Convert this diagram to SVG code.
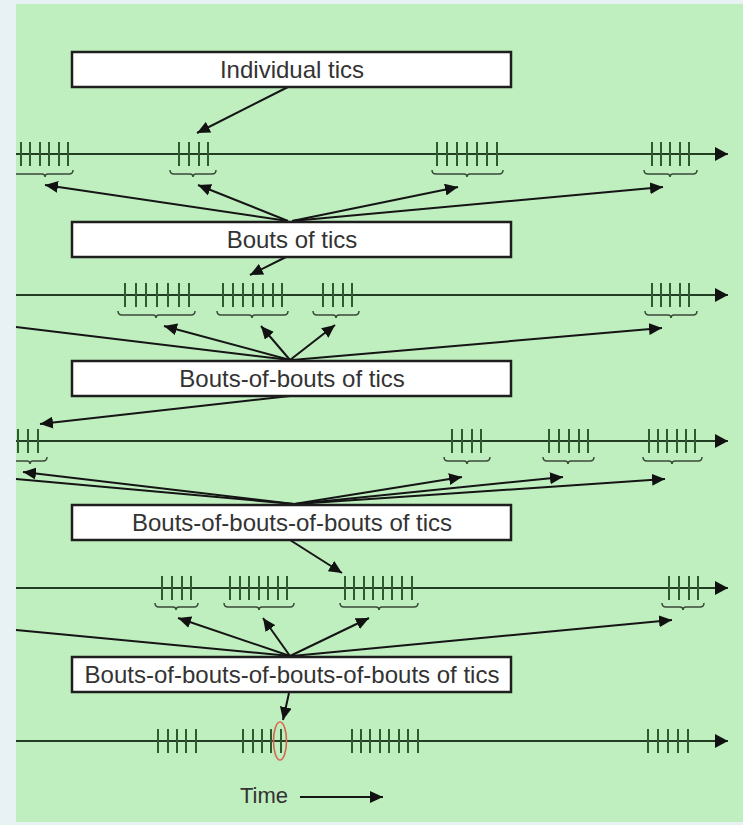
<svg xmlns="http://www.w3.org/2000/svg" width="743" height="825" viewBox="0 0 743 825">
<style>
.box{fill:#ffffff;stroke:#1e1e1e;stroke-width:2.5}
.lbl{font-family:"Liberation Sans",Arial,sans-serif;font-size:24px;fill:#333333;text-anchor:middle}
.axis{stroke:#233d23;stroke-width:2;fill:none}
.tic{stroke:#2f5a30;stroke-width:2}
.brace{stroke:#3a4a3a;stroke-width:1.5;fill:none}
.arr{stroke:#151515;stroke-width:2;fill:none}
</style>
<defs>
<marker id="ah" markerWidth="14" markerHeight="12" refX="13" refY="6" orient="auto" markerUnits="userSpaceOnUse"><path d="M0,0 L13,6 L0,12 Z" fill="#111111"/></marker>
<marker id="axh" markerWidth="14" markerHeight="14" refX="13" refY="7" orient="auto" markerUnits="userSpaceOnUse"><path d="M0,0 L13,7 L0,14 Z" fill="#111111"/></marker>
</defs>
<rect x="0" y="0" width="743" height="825" fill="#e8f1f3"/>
<rect x="16" y="4" width="727" height="818" fill="#bfeebf"/>

<g id="timelines">
<line class="axis" x1="16" y1="154" x2="728" y2="154" marker-end="url(#axh)"/>
<line class="axis" x1="16" y1="295" x2="728" y2="295" marker-end="url(#axh)"/>
<line class="axis" x1="16" y1="441" x2="728" y2="441" marker-end="url(#axh)"/>
<line class="axis" x1="16" y1="588" x2="728" y2="588" marker-end="url(#axh)"/>
<line class="axis" x1="16" y1="741" x2="728" y2="741" marker-end="url(#axh)"/>
</g>

<g id="tics">
<path class="tic" d="M21,142v24M30,142v24M40,142v24M49,142v24M59,142v24M68,142v24
M179,142v24M189,142v24M199,142v24M208,142v24
M437,142v24M447,142v24M457,142v24M467,142v24M477,142v24M487,142v24M497,142v24
M652,142v24M661,142v24M670,142v24M680,142v24M689,142v24"/>
<path class="tic" d="M125,283v24M136,283v24M146,283v24M157,283v24M168,283v24M179,283v24M189,283v24
M223,283v24M233,283v24M243,283v24M253,283v24M263,283v24M273,283v24M282,283v24
M323,283v24M333,283v24M343,283v24M352,283v24
M652,283v24M661,283v24M670,283v24M680,283v24M689,283v24"/>
<path class="tic" d="M18,429v24M28,429v24M38,429v24
M452,429v24M462,429v24M472,429v24M481,429v24
M549,429v24M559,429v24M569,429v24M579,429v24M588,429v24
M649,429v24M658,429v24M667,429v24M677,429v24M686,429v24M695,429v24"/>
<path class="tic" d="M162,576v24M172,576v24M182,576v24M191,576v24
M230,576v24M240,576v24M249,576v24M259,576v24M268,576v24M278,576v24M287,576v24
M345,576v24M354,576v24M364,576v24M373,576v24M383,576v24M392,576v24M402,576v24M412,576v24
M669,576v24M679,576v24M689,576v24M698,576v24"/>
<path class="tic" d="M158,729v24M168,729v24M177,729v24M186,729v24M196,729v24
M243,729v24M253,729v24M262,729v24M271,729v24M281,729v24
M352,729v24M361,729v24M370,729v24M380,729v24M389,729v24M399,729v24M408,729v24M418,729v24
M648,729v24M658,729v24M668,729v24M678,729v24M688,729v24"/>
<ellipse cx="280" cy="741" rx="6.5" ry="19" fill="none" stroke="#d8664e" stroke-width="1.6"/>
</g>

<g id="braces">
<path class="brace" d="M16,174 H42 q3,0 3,3 q0,-3 3,-3 H69 q4,0 4,-4"/>
<path class="brace" d="M170,170 q0,4 4,4 H190 q3,0 3,3 q0,-3 3,-3 H212 q4,0 4,-4"/>
<path class="brace" d="M432,170 q0,4 4,4 H464 q3,0 3,3 q0,-3 3,-3 H499 q4,0 4,-4"/>
<path class="brace" d="M644,170 q0,4 4,4 H667 q3,0 3,3 q0,-3 3,-3 H693 q4,0 4,-4"/>

<path class="brace" d="M118,311 q0,4 4,4 H153 q3,0 3,3 q0,-3 3,-3 H191 q4,0 4,-4"/>
<path class="brace" d="M217,311 q0,4 4,4 H249 q3,0 3,3 q0,-3 3,-3 H284 q4,0 4,-4"/>
<path class="brace" d="M313,311 q0,4 4,4 H333 q3,0 3,3 q0,-3 3,-3 H355 q4,0 4,-4"/>
<path class="brace" d="M645,311 q0,4 4,4 H668 q3,0 3,3 q0,-3 3,-3 H693 q4,0 4,-4"/>

<path class="brace" d="M16,461 H27 q3,0 3,3 q0,-3 3,-3 H43 q4,0 4,-4"/>
<path class="brace" d="M444,457 q0,4 4,4 H464 q3,0 3,3 q0,-3 3,-3 H486 q4,0 4,-4"/>
<path class="brace" d="M543,457 q0,4 4,4 H565 q3,0 3,3 q0,-3 3,-3 H590 q4,0 4,-4"/>
<path class="brace" d="M643,457 q0,4 4,4 H669 q3,0 3,3 q0,-3 3,-3 H698 q4,0 4,-4"/>

<path class="brace" d="M155,603 q0,4 4,4 H173 q3,0 3,3 q0,-3 3,-3 H194 q4,0 4,-4"/>
<path class="brace" d="M224,603 q0,4 4,4 H256 q3,0 3,3 q0,-3 3,-3 H290 q4,0 4,-4"/>
<path class="brace" d="M340,603 q0,4 4,4 H376 q3,0 3,3 q0,-3 3,-3 H414 q4,0 4,-4"/>
<path class="brace" d="M662,603 q0,4 4,4 H680 q3,0 3,3 q0,-3 3,-3 H700 q4,0 4,-4"/>
</g>

<g id="connectors">
<line class="arr" x1="288" y1="87" x2="197" y2="133" marker-end="url(#ah)"/>

<line class="arr" x1="288" y1="221" x2="45" y2="185" marker-end="url(#ah)"/>
<line class="arr" x1="288" y1="221" x2="198" y2="185" marker-end="url(#ah)"/>
<line class="arr" x1="292" y1="221" x2="458" y2="187" marker-end="url(#ah)"/>
<line class="arr" x1="292" y1="221" x2="663" y2="187" marker-end="url(#ah)"/>

<line class="arr" x1="286" y1="257" x2="250" y2="275" marker-end="url(#ah)"/>

<line class="arr" x1="290" y1="360" x2="16" y2="327"/>
<line class="arr" x1="290" y1="360" x2="164" y2="326" marker-end="url(#ah)"/>
<line class="arr" x1="290" y1="360" x2="261" y2="326" marker-end="url(#ah)"/>
<line class="arr" x1="290" y1="360" x2="335" y2="325" marker-end="url(#ah)"/>
<line class="arr" x1="292" y1="360" x2="662" y2="328" marker-end="url(#ah)"/>

<line class="arr" x1="290" y1="396" x2="40" y2="424" marker-end="url(#ah)"/>

<line class="arr" x1="294" y1="504" x2="23" y2="472" marker-end="url(#ah)"/>
<line class="arr" x1="294" y1="504" x2="16" y2="479"/>
<line class="arr" x1="294" y1="504" x2="462" y2="477" marker-end="url(#ah)"/>
<line class="arr" x1="296" y1="504" x2="563" y2="477" marker-end="url(#ah)"/>
<line class="arr" x1="296" y1="504" x2="665" y2="479" marker-end="url(#ah)"/>

<line class="arr" x1="290" y1="540" x2="342" y2="573" marker-end="url(#ah)"/>

<line class="arr" x1="290" y1="656" x2="16" y2="630"/>
<line class="arr" x1="290" y1="656" x2="178" y2="618" marker-end="url(#ah)"/>
<line class="arr" x1="290" y1="656" x2="263" y2="618" marker-end="url(#ah)"/>
<line class="arr" x1="290" y1="656" x2="369" y2="618" marker-end="url(#ah)"/>
<line class="arr" x1="292" y1="656" x2="672" y2="620" marker-end="url(#ah)"/>

<line class="arr" x1="289" y1="693" x2="283" y2="720" marker-end="url(#ah)"/>

<line class="arr" x1="300" y1="797" x2="383" y2="797" marker-end="url(#ah)"/>
</g>

<g id="box1"><rect class="box" x="72" y="52" width="439" height="35"/><text class="lbl" x="292" y="78">Individual tics</text></g>
<g id="box2"><rect class="box" x="72" y="222" width="439" height="35"/><text class="lbl" x="292" y="248">Bouts of tics</text></g>
<g id="box3"><rect class="box" x="72" y="361" width="439" height="35"/><text class="lbl" x="292" y="387">Bouts-of-bouts of tics</text></g>
<g id="box4"><rect class="box" x="72" y="505" width="439" height="35"/><text class="lbl" x="292" y="531">Bouts-of-bouts-of-bouts of tics</text></g>
<g id="box5"><rect class="box" x="72" y="657" width="439" height="35"/><text class="lbl" x="292" y="683">Bouts-of-bouts-of-bouts-of-bouts of tics</text></g>

<g id="time-label"><text x="240" y="803" style="font-family:'Liberation Sans',Arial,sans-serif;font-size:22px;fill:#333333">Time</text></g>
</svg>
